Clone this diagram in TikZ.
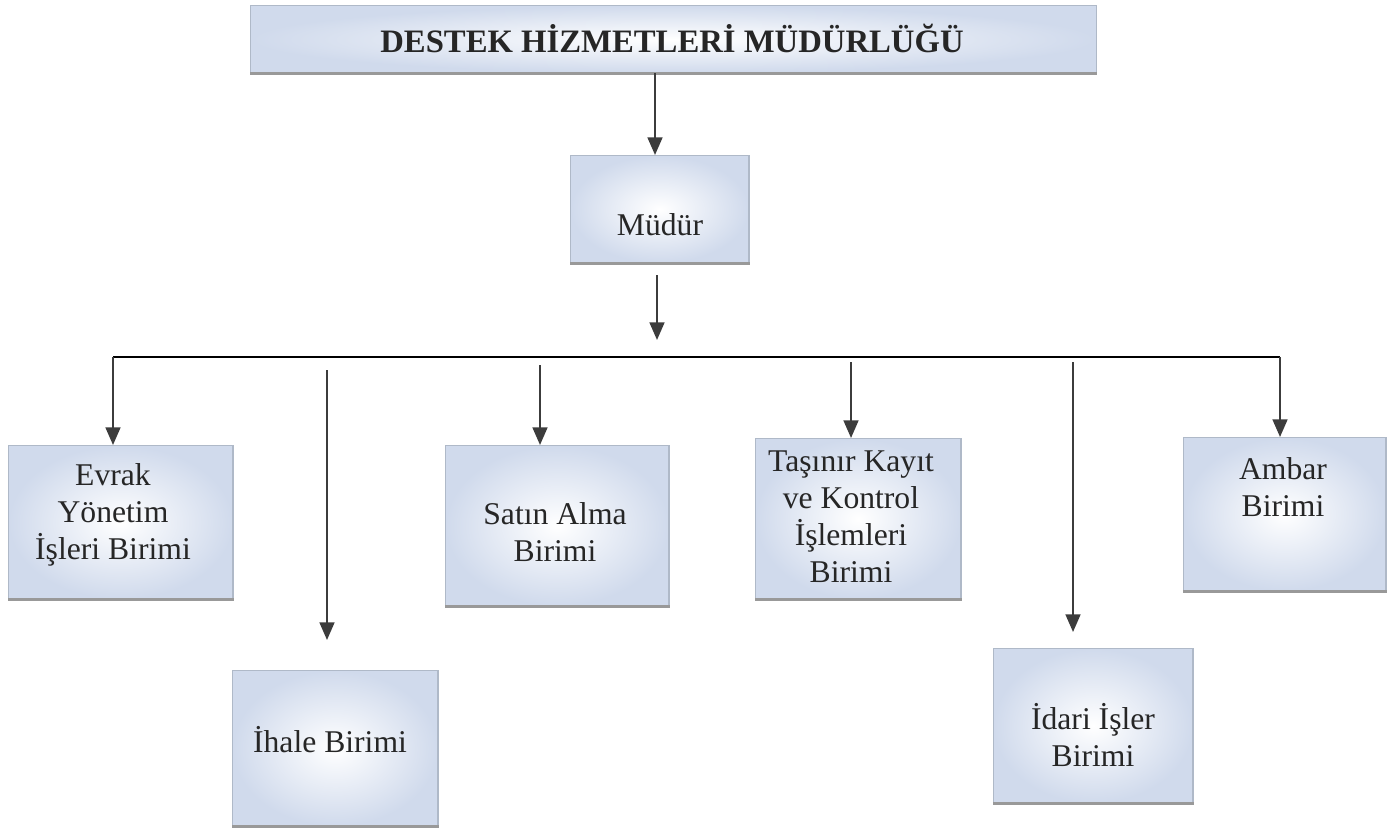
\documentclass[tikz,border=0pt]{standalone}
\usepackage{fontspec}
\setmainfont{Liberation Serif}
\usetikzlibrary{arrows.meta}
\definecolor{boxblue}{RGB}{208,218,236}
\definecolor{edgegray}{RGB}{175,185,200}
\definecolor{arrowgray}{RGB}{60,60,60}
\tikzset{
  box/.style={anchor=north west, inner sep=0pt, draw=edgegray, line width=0.4pt,
    inner color=white, outer color=boxblue},
  boxtext/.style={align=center, font=\fontsize{9}{10.5}\selectfont, text=black!85},
  conn/.style={draw=arrowgray, line width=0.6pt,
    -{Triangle[width=4.2pt,length=5pt]}},
  bus/.style={draw=black, line width=0.6pt},
  shadowline/.style={draw=gray!80, line width=0.7pt}
}
\begin{document}
\begin{tikzpicture}[x=0.01cm,y=-0.01cm]
\useasboundingbox (0,0) rectangle (1395,827);
% boxes
\node[box, minimum width=8.45cm, minimum height=0.67cm] (title) at (250,5) {};
\node[box, minimum width=1.78cm, minimum height=1.07cm] (mudur) at (570,155) {};
\node[box, minimum width=2.24cm, minimum height=1.53cm] (evrak) at (8,445) {};
\node[box, minimum width=2.05cm, minimum height=1.55cm] (ihale) at (232,670) {};
\node[box, minimum width=2.23cm, minimum height=1.60cm] (satin) at (445,445) {};
\node[box, minimum width=2.05cm, minimum height=1.60cm] (tasinir) at (755,438) {};
\node[box, minimum width=1.99cm, minimum height=1.54cm] (idari) at (993,648) {};
\node[box, minimum width=2.02cm, minimum height=1.53cm] (ambar) at (1183,437) {};
\foreach \b in {title,mudur,evrak,ihale,satin,tasinir,idari,ambar}{
  \draw[shadowline] (\b.south west) -- (\b.south east);
}
% texts
\node[font=\fontsize{9.3}{11}\selectfont\bfseries, text=black!85] (titlet) at (672,38) {DESTEK HİZMETLERİ MÜDÜRLÜĞÜ};
\node[boxtext] (mudurt) at (660,225) {Müdür};
\node[boxtext] (evrakt) at (113,515) {Evrak\\Yönetim\\İşleri Birimi};
\node[boxtext] (ihalet) at (330,740) {İhale Birimi};
\node[boxtext] (satint) at (555,532) {Satın Alma\\Birimi};
\node[boxtext] (tasinirt) at (851,517) {Taşınır Kayıt\\ve Kontrol\\İşlemleri\\Birimi};
\node[boxtext] (idarit) at (1093,735) {İdari İşler\\Birimi};
\node[boxtext] (ambart) at (1283,487) {Ambar\\Birimi};
% connector coordinates
\coordinate (m1) at (657,275);
\coordinate (m2) at (657,340);
\coordinate (busL) at (113,357);
\coordinate (busR) at (1280,357);
\coordinate (ihs) at (327,370);
\coordinate (ihe) at (327,640);
\coordinate (sas) at (540,365);
\coordinate (tas) at (851,362);
\coordinate (ids) at (1073,362);
\coordinate (ide) at (1073,632);
% connectors
\draw[conn] (title.south -| 655,0) -- (mudur.north -| 655,0);
\draw[conn] (m1) -- (m2);
\draw[bus] (busL) -- (busR);
\draw[conn] (busL) -- (evrak.north -| busL);
\draw[conn] (busR) -- (ambar.north -| busR);
\draw[conn] (ihs) -- (ihe);
\draw[conn] (sas) -- (satin.north -| sas);
\draw[conn] (tas) -- (tasinir.north -| tas);
\draw[conn] (ids) -- (ide);
\end{tikzpicture}
\end{document}
